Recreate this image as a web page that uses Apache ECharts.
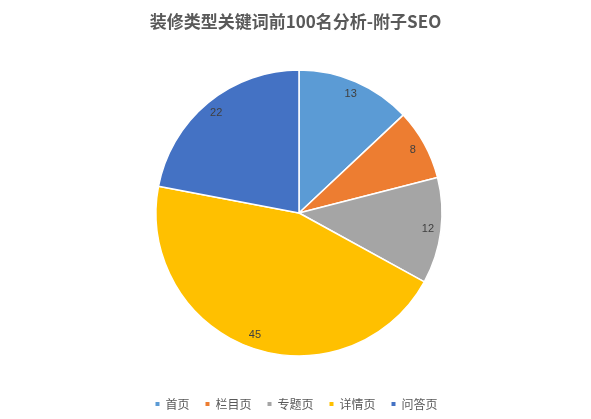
<!DOCTYPE html>
<html><head><meta charset="utf-8">
<script src="https://cdn.jsdelivr.net/npm/echarts@6/dist/echarts.min.js"></script>
<style>html,body{margin:0;padding:0;background:#fff}#c{width:591px;height:419px}</style>
</head><body><div id="c"></div>
<script>
var categories = ['首页', '栏目页', '专题页', '详情页', '问答页'];
var values = [13, 8, 12, 45, 22];
var colors = ['#5B9BD5', '#ED7D31', '#A5A5A5', '#FFC000', '#4472C4'];

var pieData = categories.map(function (n, i) { return {name: n, value: values[i]}; });
var chart = echarts.init(document.getElementById('c'));
chart.setOption({
    animation: false,
    color: colors,
    title: {
        text: '装修类型关键词前100名分析-附子SEO',
        left: 'center', top: 8,
        textStyle: {fontSize: 17, fontWeight: 'bold', color: '#595959', fontFamily: 'Noto Sans CJK SC'}
    },
    legend: {
        bottom: 4, left: 'center', itemWidth: 6, itemHeight: 6, itemGap: 14, icon: 'rect',
        textStyle: {fontSize: 12, color: '#595959', fontFamily: 'Noto Sans CJK SC'}
    },
    series: [{
        type: 'pie',
        center: [299, 213],
        radius: 143,
        startAngle: 90,
        clockwise: true,
        itemStyle: {borderColor: '#fff', borderWidth: 1.5},
        label: {show: false},
        data: pieData
    }, {
        // label ring only, to place the numbers near the rim
        type: 'pie',
        center: [299, 213],
        radius: [112, 142],
        startAngle: 90,
        clockwise: true,
        silent: true,
        itemStyle: {color: 'transparent'},
        label: {position: 'inner', color: '#404040', fontSize: 11, formatter: '{c}'},
        data: pieData
    }]
});
</script></body></html>
